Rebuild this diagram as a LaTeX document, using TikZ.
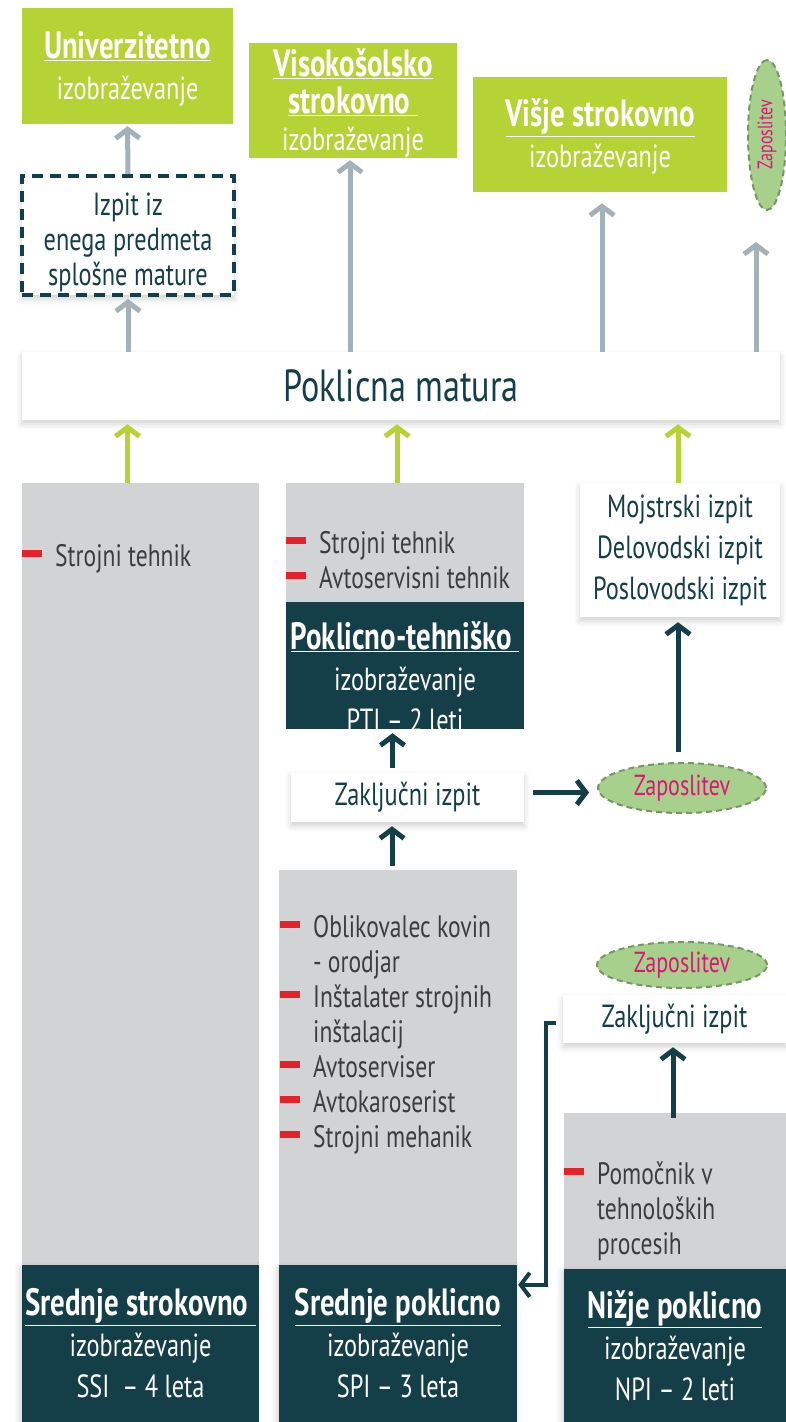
\documentclass[tikz,border=0pt]{standalone}
\usepackage{fontspec}
\setmainfont{PT Sans}[FakeStretch=0.76]
\usepackage{tikz}
\usetikzlibrary{arrows.meta,positioning,shapes.geometric,shadows.blur}
\definecolor{lime}{RGB}{181,211,52}
\definecolor{steel}{RGB}{164,177,184}
\definecolor{pale}{RGB}{209,211,212}
\definecolor{petrol}{RGB}{20,63,72}
\definecolor{leaf}{RGB}{168,208,141}
\definecolor{moss}{RGB}{118,150,98}
\definecolor{berry}{RGB}{222,20,120}
\definecolor{bred}{RGB}{229,33,41}
\definecolor{ink}{RGB}{61,61,61}
\newcommand{\hd}[1]{{\fontsize{38}{41}\selectfont\textbf{\underline{#1}}}}
\newcommand{\bul}{\llap{\textcolor{bred}{\rule[9pt]{20pt}{7pt}}\hspace{13pt}}}

\begin{document}
\begin{tikzpicture}[x=1pt,y=-1pt,>={Straight Barb[length=9pt,width=24pt]},
	every node/.style={inner sep=0pt,font=\fontsize{32}{41}\selectfont},
	greenbox/.style={rectangle,fill=lime,text=white,align=center},
	whitebox/.style={rectangle,fill=white,text=petrol,align=center,blur shadow={shadow xshift=0pt,shadow yshift=-4pt,shadow blur radius=6pt,shadow opacity=18}},
	darkbox/.style={rectangle,fill=petrol,text=white,align=center,blur shadow={shadow xshift=-2pt,shadow yshift=-3pt,shadow blur radius=6pt,shadow opacity=18}},
	greybox/.style={rectangle,fill=pale},
	items/.style={anchor=base west,align=left,text=ink,font=\fontsize{31}{35}\selectfont},
	jobs/.style={ellipse,fill=leaf,draw=moss,line width=2pt,dash pattern=on 6pt off 4pt,text=berry,font=\fontsize{29}{29}\selectfont},
	garr/.style={->,draw=steel,line width=5pt},
	larr/.style={->,draw=lime,line width=5pt},
	darr/.style={->,draw=petrol,line width=5pt}]
	\useasboundingbox (0,0) rectangle (786,1422);

	\node[greenbox,minimum width=211,minimum height=116]	(uni)	at (127.5,66)	{\rule{0pt}{32pt}\hd{Univerzitetno}\\izobraževanje};
	\node[greenbox,minimum width=208,minimum height=115]	(viso)	at (353,100.5)	{\rule{0pt}{32pt}\hd{Visokošolsko}\\[-4pt]\hd{strokovno\ }\\[-4pt]izobraževanje};
	\node[greenbox,minimum width=254,minimum height=115]	(visje)	at (600,134.5)	{\rule{0pt}{32pt}\hd{Višje strokovno}\\izobraževanje};
	\node[jobs,rotate=90,minimum width=150,minimum height=38,font=\fontsize{21}{21}\selectfont]	(zapv)	at (767,135)	{Zaposlitev};
	\node[whitebox,minimum width=212,minimum height=119,draw=petrol,line width=4pt,dash pattern=on 11pt off 7pt]	(izpit)	at (128,235.5)	{\rule{0pt}{36pt}Izpit iz\\[-6pt]enega predmeta\\[-6pt]splošne mature};
	\node[whitebox,minimum width=758,minimum height=68,font=\fontsize{45}{45}\selectfont]	(matura)	at (401,386)	{Poklicna matura};

	\node[greybox,minimum width=237,minimum height=782]	(ssig)	at (140.5,874)	{};
	\node[darkbox,minimum width=237,minimum height=157]	(ssid)	at (140.5,1343.5)	{\hd{Srednje strokovno\ }\\izobraževanje\\SSI\ \ – 4 leta};
	\node[items]	(ssil)	at (55,566)	{\bul Strojni tehnik};

	\node[greybox,minimum width=238,minimum height=119]	(ptig)	at (405,542.5)	{};
	\node[rectangle,fill=petrol,minimum width=238,minimum height=127]	(ptid)	at (405,665.5)	{};
	\node[text=white,align=center]	(ptit)	at (405,677)	{\hd{Poklicno-tehniško\ }\\izobraževanje\\PTI – 2 leti};
	\node[items]	(ptil)	at (319,588)	{\bul Strojni tehnik\\\bul Avtoservisni tehnik};

	\node[whitebox,minimum width=233,minimum height=49]	(zak1)	at (407.5,797.5)	{Zaključni izpit};
	\node[jobs,minimum width=168,minimum height=50]	(zap1)	at (682,788)	{Zaposlitev};
	\node[whitebox,minimum width=200,minimum height=134]	(mojstr)	at (680,550)	{Mojstrski izpit\\Delovodski izpit\\Poslovodski izpit};

	\node[greybox,minimum width=238,minimum height=395]	(spig)	at (398,1067.5)	{};
	\node[darkbox,minimum width=238,minimum height=157]	(spid)	at (398,1343.5)	{\hd{Srednje poklicno}\\izobraževanje\\SPI – 3 leta};
	\node[items]	(spil)	at (313,1147)	{\bul Oblikovalec kovin\\- orodjar\\\bul Inštalater strojnih\\inštalacij\\\bul Avtoserviser\\\bul Avtokaroserist\\\bul Strojni mehanik};

	\node[greybox,minimum width=222,minimum height=156]	(npig)	at (675,1191)	{};
	\node[darkbox,minimum width=222,minimum height=153]	(npid)	at (675,1345.5)	{\hd{Nižje poklicno}\\izobraževanje\\NPI – 2 leti};
	\node[items]	(npil)	at (597,1254)	{\bul Pomočnik v\\tehnoloških\\procesih};

	\node[whitebox,minimum width=223,minimum height=48]	(zak2)	at (674.5,1019)	{Zaključni izpit};
	\node[jobs,minimum width=170,minimum height=46]	(zap2)	at (682,965)	{Zaposlitev};

	\draw[garr,shorten >=2pt]	(izpit.south |- matura.north) -- (izpit.south);
	\draw[garr,shorten >=2pt]	(izpit.north) -- (uni.south);
	\draw[garr,shorten >=2pt]	([xshift=-3pt]viso.south |- matura.north) -- ([xshift=-3pt]viso.south);
	\draw[garr,shorten >=11pt]	([xshift=2pt]visje.south |- matura.north) -- ([xshift=2pt]visje.south);
	\draw[garr,shorten >=31pt]	([xshift=-11pt]zapv.west |- matura.north) -- ([xshift=-11pt]zapv.west);

	\draw[larr,shorten >=4pt]	(uni.south |- ssig.north) -- (uni.south |- matura.south);
	\draw[larr,shorten >=4pt]	([xshift=-8pt]ptig.north) -- ([xshift=-8pt]ptig.north |- matura.south);
	\draw[larr,shorten >=4pt]	([xshift=-2pt]mojstr.north) -- ([xshift=-2pt]mojstr.north |- matura.south);

	\draw[darr,shorten <=4pt,shorten >=4pt]	([xshift=-6pt]spig.north) -- ([xshift=-6pt]spig.north |- zak1.south);
	\draw[darr,shorten <=5pt,shorten >=4pt]	([xshift=-15pt]zak1.north) -- ([xshift=-15pt]zak1.north |- ptid.south);
	\draw[darr,shorten <=9pt,shorten >=8pt]	([yshift=5pt]zak1.east) -- ([yshift=5pt]zak1.east -| zap1.west);
	\draw[darr,shorten <=10pt,shorten >=5pt]	([xshift=-4pt]zap1.north) -- ([xshift=-4pt]zap1.north |- mojstr.south);
	\draw[darr,shorten <=-5pt,shorten >=4pt]	([xshift=-2pt]npig.north) -- ([xshift=-2pt]npig.north |- zak2.south);
	\draw[darr,line width=4pt,shorten >=1pt]	([xshift=-7pt,yshift=-4pt]zak2.west) -- ++(-10,0) |- ([yshift=-20pt]spid.north east);
\end{tikzpicture}
\end{document}
